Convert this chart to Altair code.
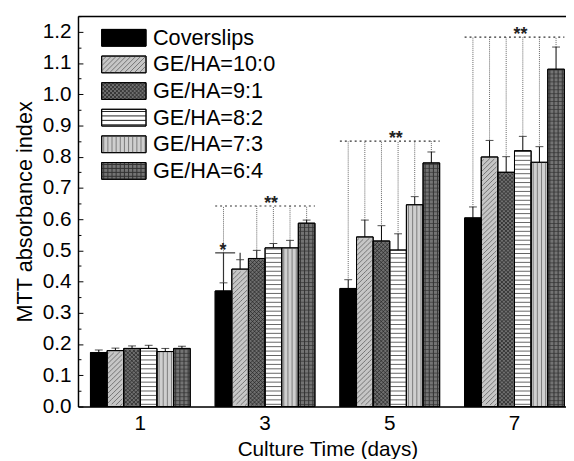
import altair as alt
import pandas as pd

days = ["1", "3", "5", "7"]
series = ["Coverslips", "GE/HA=10:0", "GE/HA=9:1", "GE/HA=8:2", "GE/HA=7:3", "GE/HA=6:4"]
fills = ["#000000", "#c6c6c6", "#6e6e6e", "#ffffff", "#cfcfcf", "#747474"]

mean_day1 = [0.173, 0.179, 0.186, 0.186, 0.176, 0.186]
mean_day3 = [0.370, 0.440, 0.474, 0.508, 0.508, 0.587]
mean_day5 = [0.378, 0.543, 0.530, 0.501, 0.646, 0.780]
mean_day7 = [0.604, 0.799, 0.750, 0.819, 0.782, 1.080]
err_day1 = [0.008, 0.008, 0.008, 0.010, 0.010, 0.007]
err_day3 = [0.026, 0.030, 0.026, 0.014, 0.024, 0.010]
err_day5 = [0.028, 0.054, 0.049, 0.052, 0.026, 0.035]
err_day7 = [0.035, 0.053, 0.050, 0.046, 0.050, 0.071]

sig_days = ["3", "5", "7"]
sig_levels = [0.642, 0.850, 1.183]
sig_members = [
    ["Coverslips", "GE/HA=9:1", "GE/HA=8:2", "GE/HA=7:3", "GE/HA=6:4"],
    series,
    series,
]
star_day = "3"
star_pair = ["Coverslips", "GE/HA=10:0"]
star_level = 0.492

rows = []
for d, means, errs in zip(days, [mean_day1, mean_day3, mean_day5, mean_day7],
                          [err_day1, err_day3, err_day5, err_day7]):
    for i, (s, m, e) in enumerate(zip(series, means, errs)):
        rows.append(dict(day=d, series=s, idx=i, value=m, top=m + e))
bars = pd.DataFrame(rows)

sig_rows = []
for d, lev, mem in zip(sig_days, sig_levels, sig_members):
    for s in mem:
        r = bars[(bars.day == d) & (bars.series == s)].iloc[0]
        sig_rows.append(dict(day=d, series=s, idx=int(r.idx), top=r.top, level=lev))
sig = pd.DataFrame(sig_rows)
sig_text = pd.DataFrame(dict(day=sig_days, series=["GE/HA=8:2"] * 3, level=sig_levels, label=["**"] * 3))

star_rows = []
for s in star_pair:
    r = bars[(bars.day == star_day) & (bars.series == s)].iloc[0]
    star_rows.append(dict(day=star_day, series=s, idx=int(r.idx), top=r.top, level=star_level))
star = pd.DataFrame(star_rows)
star_text = pd.DataFrame(dict(day=[star_day], series=["Coverslips"], level=[star_level], label=["*"]))

legend_df = pd.DataFrame(dict(series=series, row=list(range(len(series)))))

FONT = "Liberation Sans"
W, H = 495, 396
XR = 506
NSUB = 8

xscale = alt.Scale(domain=days, range=[0, XR], paddingInner=0.2, paddingOuter=0.1)
yscale = alt.Scale(domain=[0, 1.25], nice=False, zero=True)
offs = alt.Scale(domain=series, paddingInner=0, paddingOuter=0)
cscale = alt.Scale(domain=series, range=fills)
slot4 = alt.Scale(domain=list(range(24)), paddingInner=0, paddingOuter=0)
slot8 = alt.Scale(domain=list(range(6 * NSUB)), paddingInner=0, paddingOuter=0)


def X(axis=None):
    return alt.X("day:N", scale=xscale, axis=axis, title=None)


def XO():
    return alt.XOffset("series:N", scale=offs)


def Y(field, axis=None):
    return alt.Y(field, scale=yscale, axis=axis)


bottom_axis = alt.Axis(labelAngle=0, labelFontSize=21, labelFont=FONT, labelColor="black",
                       ticks=False, domainColor="black", domainWidth=1.5, labelPadding=6,
                       title="Culture Time (days)", titleFontSize=21, titleFont=FONT,
                       titleFontWeight="normal", titleColor="black", titlePadding=6)
left_axis = alt.Axis(values=[round(0.1 * i, 1) for i in range(13)], format=".1f",
                     labelFontSize=21, labelFont=FONT, labelColor="black", ticks=False,
                     domainColor="black", domainWidth=1.5, labelPadding=7, grid=False,
                     title="MTT absorbance index", titleFontSize=22, titleFont=FONT,
                     titleFontWeight="normal", titleColor="black", titlePadding=6)

base = alt.Chart(bars)

bar_layer = base.mark_bar(stroke="black", strokeWidth=1).encode(
    x=X(bottom_axis), xOffset=XO(), y=Y("value:Q", left_axis),
    color=alt.Color("series:N", scale=cscale, legend=None),
)


def hstripes(name, step, color):
    return base.transform_filter(alt.datum.series == name).transform_calculate(
        s=f"sequence({step / 2}, datum.value, {step})").transform_flatten(["s"]).mark_tick(
        orient="horizontal", thickness=1, size=16, color=color).encode(
        x=X(), xOffset=XO(), y=Y("s:Q"))


def vstripes(name, color):
    return base.transform_filter(alt.datum.series == name).transform_calculate(
        sub="sequence(0, 4)").transform_flatten(["sub"]).transform_calculate(
        slot="datum.idx * 4 + datum.sub", zero="0").mark_rule(color=color, strokeWidth=1).encode(
        x=X(), xOffset=alt.XOffset("slot:O", scale=slot4), y=Y("zero:Q"), y2="value:Q")


def diag(name, step, color, up=True, width=0.9):
    rise = 16.87 / NSUB / 316.8
    k = "datum.sub" if up else f"({NSUB - 1} - datum.sub)"
    return base.transform_filter(alt.datum.series == name).transform_calculate(
        y0=f"sequence(-{rise * NSUB}, datum.value, {step})").transform_flatten(["y0"]).transform_calculate(
        sub=f"sequence(0, {NSUB})").transform_flatten(["sub"]).transform_calculate(
        yy=f"datum.y0 + {k} * {rise}", slot=f"datum.idx * {NSUB} + datum.sub",
        lid="datum.day + '_' + datum.y0").transform_filter(
        "datum.yy >= 0.002 && datum.yy <= datum.value - 0.002").mark_line(
        color=color, strokeWidth=width).encode(
        x=X(), xOffset=alt.XOffset("slot:O", scale=slot8), y=Y("yy:Q"),
        detail="lid:N", order="sub:Q")


patterns = [
    diag("GE/HA=10:0", 0.0158, "#6a6a6a", True, 0.9),
    diag("GE/HA=9:1", 0.0126, "#2e2e2e", True, 0.9),
    diag("GE/HA=9:1", 0.0126, "#2e2e2e", False, 0.9),
    hstripes("GE/HA=8:2", 0.0142, "#222222"),
    vstripes("GE/HA=7:3", "#7c7c7c"),
    hstripes("GE/HA=6:4", 0.0126, "#333333"),
    vstripes("GE/HA=6:4", "#333333"),
]

top_axis = alt.Axis(orient="top", labels=False, ticks=False, title=None,
                    domainColor="black", domainWidth=1.5)
outline = base.mark_bar(filled=False, stroke="black", strokeWidth=1).encode(
    x=X(top_axis), xOffset=XO(), y=Y("value:Q"))

inner_ticks = alt.Axis(orient="right", offset=-W, labels=False, domain=False, title=None, grid=False,
                       values=[round(0.05 * i, 2) for i in range(26)], tickColor="black", tickWidth=1,
                       tickSize={"condition": {"test": "abs(datum.value*10 - round(datum.value*10)) < 0.01",
                                               "value": 5}, "value": 3})
err_rule = base.mark_rule(color="black", strokeWidth=1).encode(
    x=X(), xOffset=XO(), y=Y("value:Q", inner_ticks), y2="top:Q")
err_cap = base.mark_tick(orient="horizontal", size=8, thickness=1, color="black").encode(
    x=X(), xOffset=XO(), y=Y("top:Q"))

sig_v = alt.Chart(sig).mark_rule(color="#666666", strokeWidth=1, strokeDash=[1, 1]).encode(
    x=X(), xOffset=XO(), y=Y("top:Q"), y2="level:Q")
sig_h = alt.Chart(sig).mark_line(color="#333333", strokeWidth=1.2, strokeDash=[2, 3]).encode(
    x=X(), xOffset=XO(), y=Y("level:Q"), detail="day:N", order="idx:Q")
sig_t = alt.Chart(sig_text).mark_text(fontSize=18, fontWeight="bold", font=FONT, dx=-4, dy=3,
                                      baseline="alphabetic", color="#222222").encode(
    x=X(), xOffset=XO(), y=Y("level:Q"), text="label:N")

star_v = alt.Chart(star).mark_rule(color="#333333", strokeWidth=1.2).encode(
    x=X(), xOffset=XO(), y=Y("top:Q"), y2="level:Q")
star_h = alt.Chart(star).mark_line(color="#333333", strokeWidth=1.2).encode(
    x=X(), xOffset=XO(), y=Y("level:Q"), order="idx:Q")
star_t = alt.Chart(star_text).mark_text(fontSize=18, fontWeight="bold", font=FONT, dx=8, dy=3,
                                        baseline="alphabetic", color="#222222").encode(
    x=X(), xOffset=XO(), y=Y("level:Q"), text="label:N")

# legend (drawn in pixel space)
LX0, LX1, LH = 24, 69, 17
leg = alt.Chart(legend_df).transform_calculate(
    ly=f"13.5 + 27 * datum.row", ly2=f"13.5 + {LH} + 27 * datum.row", lc="22 + 27 * datum.row")
leg_rect = leg.mark_rect(stroke="black", strokeWidth=1).encode(
    x=alt.value(LX0), x2=alt.value(LX1),
    y=alt.Y("ly:Q", scale=None, axis=None), y2="ly2:Q",
    color=alt.Color("series:N", scale=cscale, legend=None))


def leg_h(name, step, color):
    return leg.transform_filter(alt.datum.series == name).transform_calculate(
        s=f"sequence(datum.ly + {step / 2}, datum.ly2, {step})").transform_flatten(["s"]).mark_rule(
        color=color, strokeWidth=1).encode(
        x=alt.value(LX0), x2=alt.value(LX1), y=alt.Y("s:Q", scale=None, axis=None))


def leg_v(name, step, color):
    return leg.transform_filter(alt.datum.series == name).transform_calculate(
        s=f"sequence({LX0 + step / 2}, {LX1}, {step})").transform_flatten(["s"]).mark_rule(
        color=color, strokeWidth=1).encode(
        x=alt.X("s:Q", scale=None, axis=None),
        y=alt.Y("ly:Q", scale=None, axis=None), y2="ly2:Q")


def leg_d(name, step, color, up=True):
    if up:
        ya = f"datum.ly2 - (datum.xa - datum.t)"
        yb = f"datum.ly2 - (datum.xb - datum.t)"
    else:
        ya = f"datum.ly + (datum.xa - datum.t)"
        yb = f"datum.ly + (datum.xb - datum.t)"
    return leg.transform_filter(alt.datum.series == name).transform_calculate(
        t=f"sequence({LX0 - LH}, {LX1}, {step})").transform_flatten(["t"]).transform_calculate(
        xa=f"max(datum.t, {LX0})", xb=f"min(datum.t + {LH}, {LX1})").transform_calculate(
        ya=ya, yb=yb).mark_rule(color=color, strokeWidth=0.9).encode(
        x=alt.X("xa:Q", scale=None, axis=None), x2="xb:Q",
        y=alt.Y("ya:Q", scale=None, axis=None), y2="yb:Q")


leg_patterns = [
    leg_d("GE/HA=10:0", 5, "#6a6a6a", True),
    leg_d("GE/HA=9:1", 4, "#2e2e2e", True),
    leg_d("GE/HA=9:1", 4, "#2e2e2e", False),
    leg_h("GE/HA=8:2", 4.5, "#222222"),
    leg_v("GE/HA=7:3", 4.2, "#7c7c7c"),
    leg_h("GE/HA=6:4", 4, "#333333"),
    leg_v("GE/HA=6:4", 4.2, "#333333"),
]
leg_outline = leg.mark_rect(stroke="black", strokeWidth=1, fillOpacity=0).encode(
    x=alt.value(LX0), x2=alt.value(LX1),
    y=alt.Y("ly:Q", scale=None, axis=None), y2="ly2:Q")
leg_text = leg.mark_text(align="left", baseline="middle", fontSize=22, font=FONT, color="black").encode(
    x=alt.value(76), y=alt.Y("lc:Q", scale=None, axis=None), text="series:N")

chart = alt.layer(
    bar_layer, *patterns, outline, err_rule, err_cap,
    sig_v, sig_h, sig_t, star_v, star_h, star_t,
    leg_rect, *leg_patterns, leg_outline, leg_text
).resolve_scale(xOffset="independent").resolve_axis(x="independent", y="independent").properties(
    width=W, height=H,
    autosize=alt.AutoSizeParams(type="none"),
    padding={"left": 71, "top": 5, "right": 0, "bottom": 50},
).configure_view(stroke=None).configure(background="white")

chart.save("out.html", embed_options={"renderer": "svg", "actions": False})
